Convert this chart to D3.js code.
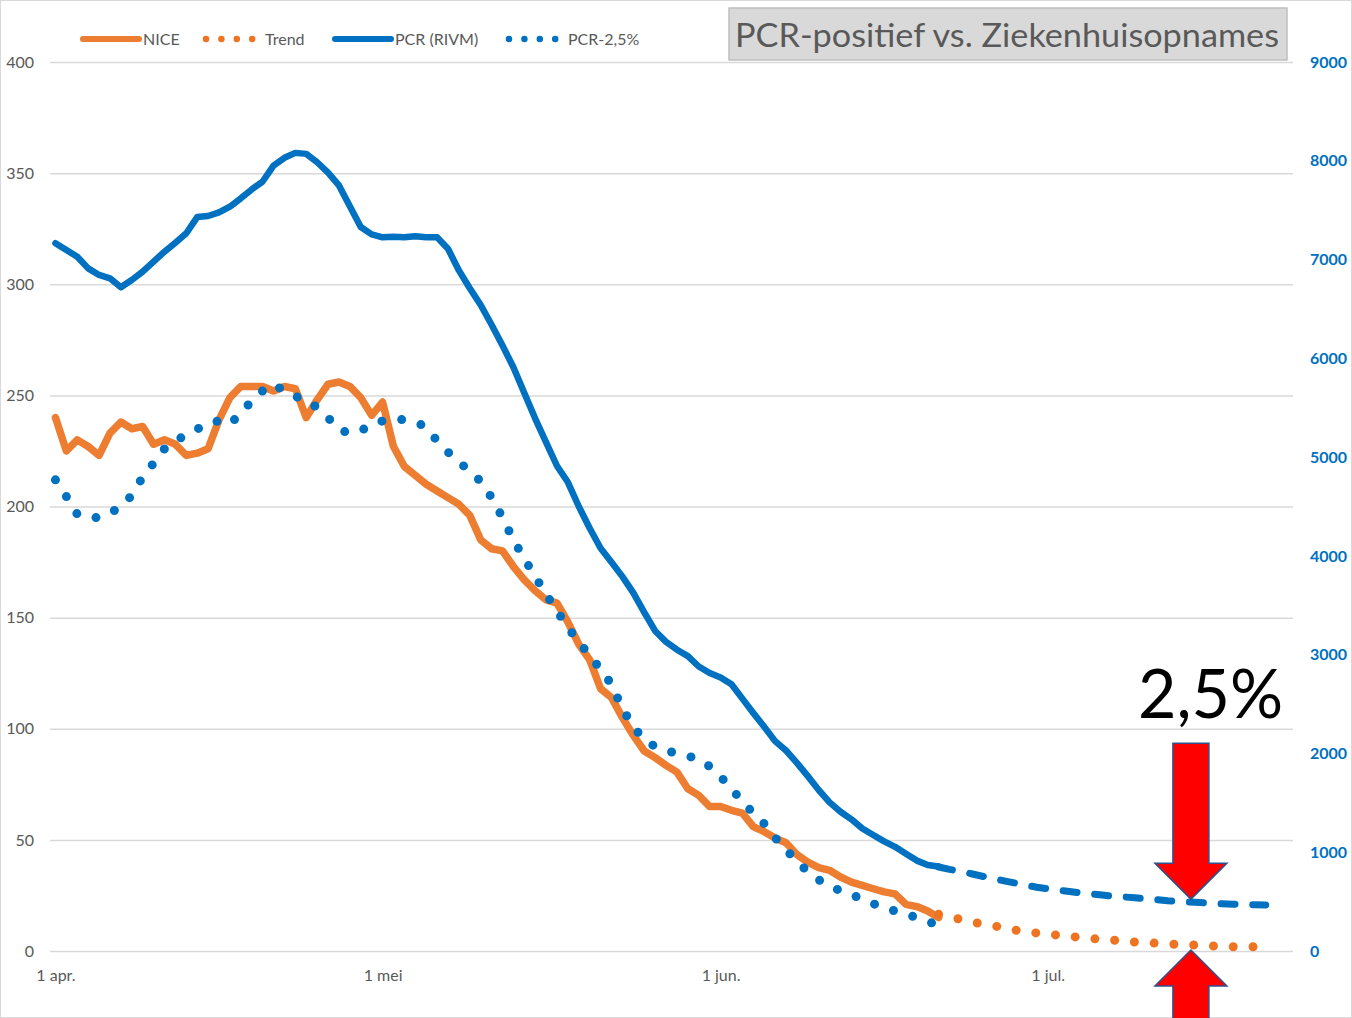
<!DOCTYPE html>
<html>
<head>
<meta charset="utf-8">
<style>
  body { margin: 0; background: #fff; }
  svg text { font-family: Lato, "Open Sans", sans-serif; }
  .grid line { stroke: #d9d9d9; stroke-width: 1.5; }
  .grid .domain, .axis .domain, .axis line { display: none; }
  .left text, .bottom text { fill: #595959; font-size: 16px; }
  .right text { fill: #0070c0; font-size: 16px; font-weight: bold; }
  .legend text { fill: #595959; font-size: 16px; }
</style>
</head>
<body>
<script src="https://cdn.jsdelivr.net/npm/d3@7"></script>
<script>
// ---- data (daily, from 1 april) ----
var startDay = Date.UTC(2021, 3, 1);

var nice = [240, 225, 230, 227, 223, 233, 238, 235, 236, 228, 230, 228, 223, 224, 226, 239,
  249, 254, 254, 254, 252, 254, 253, 240, 248, 255, 256, 254, 249, 241, 247, 227, 218, 214,
  210, 207, 204, 201, 196, 185, 181, 180, 173, 167, 162, 158, 156.5, 148, 138, 131, 118, 114,
  105, 97, 90, 87, 83.5, 80.5, 73, 70, 65, 65, 63.3, 62, 56, 53.7, 50.8, 48.7, 43.4, 40, 37.5,
  36.3, 33.3, 31, 29.5, 28, 26.6, 25.7, 21, 20, 18, 15];

// trend starts at day 81 (21 jun)
var trendStart = 81;
var trend = [16.5, 15.5, 14.2, 13.2, 12.1, 11.4, 10.4, 9.4, 8.7, 8.1, 7.6, 7.1, 6.6, 6.1, 5.6,
  5.2, 4.9, 4.5, 4.0, 3.8, 3.5, 3.2, 2.9, 2.8, 2.6, 2.3, 2.1, 1.9, 1.9, 1.9];

var pcr = [7165, 7097, 7029, 6911, 6844, 6810, 6719, 6793, 6877, 6979, 7080, 7171, 7266, 7430,
  7441, 7478, 7535, 7620, 7710, 7790, 7950, 8030, 8080, 8070, 7985, 7880, 7750, 7540, 7330,
  7255, 7225, 7232, 7225, 7235, 7225, 7225, 7110, 6890, 6710, 6540, 6340, 6130, 5910, 5650,
  5390, 5150, 4910, 4745, 4500, 4280, 4077, 3935, 3790, 3625, 3428, 3240, 3130, 3050, 2985,
  2880, 2815, 2770, 2700, 2555, 2410, 2270, 2125, 2030, 1905, 1770, 1630, 1505, 1410, 1333,
  1240, 1175, 1110, 1055, 985, 915, 870, 855];

var pcrTrend = [850, 826, 806, 782, 757, 733, 710, 688, 666, 646, 630, 616, 602, 589, 577, 566,
  556, 547, 539, 530, 520, 509, 502, 496, 490, 484, 478, 474, 471, 468, 466];

var pcr25 = [212, 204.5, 196.5, 195, 195, 197, 200, 205, 213.3, 219.5, 226, 229.5, 232.3, 234.8,
  237.5, 238.5, 237, 242, 247.5, 252, 255, 252, 249.5, 248, 244.5, 240, 234.5, 233, 234, 237,
  238.5, 239.4, 239, 238, 235.8, 229.5, 224.5, 220, 216, 211.3, 204, 195, 185, 176.5, 168.5,
  160.5, 153, 145.5, 139, 133, 126.7, 120, 109, 101, 95, 92, 90.3, 88.8, 87.7, 86.4, 83, 78.5,
  73, 67.3, 62, 57.3, 51, 45.6, 40.5, 35.6, 32, 29.5, 27, 25.2, 23.6, 21.3, 19.5, 18, 16.5, 15,
  13.3, 11.5];

var leftTicks = [0, 50, 100, 150, 200, 250, 300, 350, 400];
var rightTicks = [0, 1000, 2000, 3000, 4000, 5000, 6000, 7000, 8000, 9000];
var monthDays = [0, 30, 61, 91];
var monthLabels = ["1 apr.", "1 mei", "1 jun.", "1 jul."];

var orange = "#ed7d31", orangeTrend = "#ee7421", blue = "#0070c0";

// ---- setup ----
var W = 1352, H = 1018;
var plot = {left: 50, right: 1293, top: 62, bottom: 951};

function day(i) { return new Date(startDay + i * 864e5 + 432e5); }

var x = d3.scaleUtc()
  .domain([new Date(startDay), new Date(startDay + 114 * 864e5)])
  .range([plot.left, plot.right]);
var yL = d3.scaleLinear().domain([0, 400]).range([plot.bottom, plot.top]);
var yR = d3.scaleLinear().domain([0, 9000]).range([plot.bottom, plot.top]);

var svg = d3.select("body").append("svg")
  .attr("width", W).attr("height", H);

svg.append("rect")
  .attr("x", 0.5).attr("y", 0.5).attr("width", W - 1).attr("height", H - 1)
  .attr("fill", "#fff").attr("stroke", "#d9d9d9");

// gridlines
svg.append("g").attr("class", "grid")
  .attr("transform", "translate(" + plot.left + ",0)")
  .call(d3.axisLeft(yL).tickValues(leftTicks).tickSize(-(plot.right - plot.left)).tickFormat(""));

// axes
svg.append("g").attr("class", "axis left")
  .attr("transform", "translate(34,0)")
  .call(d3.axisLeft(yL).tickValues(leftTicks).tickSize(0).tickPadding(0));

svg.append("g").attr("class", "axis right")
  .attr("transform", "translate(1310,0)")
  .call(d3.axisRight(yR).tickValues(rightTicks).tickSize(0).tickPadding(0)
    .tickFormat(d3.format("d")));

svg.append("g").attr("class", "axis bottom")
  .attr("transform", "translate(0," + plot.bottom + ")")
  .call(d3.axisBottom(x).tickValues(monthDays.map(day)).tickSize(0).tickPadding(19)
    .tickFormat(function(d, i) { return monthLabels[i]; }));

// ---- series ----
function drawLine(values, offset, scale, color, width, dash) {
  var line = d3.line()
    .x(function(d, i) { return x(day(i + offset)); })
    .y(function(d) { return scale(d); });
  var p = svg.append("path")
    .datum(values)
    .attr("d", line)
    .attr("fill", "none")
    .attr("stroke", color)
    .attr("stroke-width", width)
    .attr("stroke-linejoin", "round")
    .attr("stroke-linecap", "round");
  if (dash) p.attr("stroke-dasharray", dash);
  return p;
}

drawLine(nice, 0, yL, orange, 7.5);
drawLine(trend, trendStart, yL, orangeTrend, 9, "0,19.8");
drawLine(pcr, 0, yR, blue, 6.5);
drawLine(pcrTrend, trendStart, yR, blue, 7, "14,17.7");
drawLine(pcr25, 0, yL, blue, 9, "0,20");

// ---- legend ----
var lg = svg.append("g").attr("class", "legend");
var legendItems = [
  {label: "NICE", x: 83, color: orange, dash: null, w: 6},
  {label: "Trend", x: 206, color: orangeTrend, dash: "0,15.4", w: 6.5},
  {label: "PCR (RIVM)", x: 335, color: blue, dash: null, w: 6},
  {label: "PCR-2,5%", x: 509, color: blue, dash: "0,15.4", w: 6.5}
];
var textX = [143, 265, 395, 568];
legendItems.forEach(function(it, i) {
  var len = it.dash ? 46.8 : 56;
  var l = lg.append("line")
    .attr("x1", it.x).attr("x2", it.x + len).attr("y1", 39).attr("y2", 39)
    .attr("stroke", it.color).attr("stroke-width", it.w).attr("stroke-linecap", "round");
  if (it.dash) l.attr("stroke-dasharray", it.dash);
  lg.append("text").attr("x", textX[i]).attr("y", 45).text(it.label);
});

// ---- title box ----
svg.append("rect")
  .attr("x", 729).attr("y", 8).attr("width", 558).attr("height", 52)
  .attr("fill", "#d9d9d9").attr("stroke", "#bfbfbf").attr("stroke-width", 1.5);
svg.append("text")
  .attr("x", 735).attr("y", 47)
  .attr("font-size", 32).attr("fill", "#595959")
  .attr("textLength", 544).attr("lengthAdjust", "spacingAndGlyphs")
  .text("PCR-positief vs. Ziekenhuisopnames");

// ---- annotation ----
svg.append("text")
  .attr("x", 1138).attr("y", 718)
  .attr("font-size", 68).attr("fill", "#000")
  .attr("textLength", 145).attr("lengthAdjust", "spacingAndGlyphs")
  .text("2,5%");

var ax = x(day(104)) + 1.5;   // arrow centre around 14 jul
function arrow(tipY, dir) {
  // dir = 1 points down, -1 points up
  var hw = 36, sw = 18, head = 36, shaft = 120;
  var b = tipY - dir * head;
  var pts = [
    [ax, tipY], [ax + hw, b], [ax + sw, b], [ax + sw, b - dir * shaft],
    [ax - sw, b - dir * shaft], [ax - sw, b], [ax - hw, b]
  ];
  svg.append("path")
    .attr("d", "M" + pts.join("L") + "Z")
    .attr("fill", "#ff0000").attr("stroke", "#2f528f").attr("stroke-width", 1.5);
}
arrow(yR(525), 1);
arrow(yL(0) - 1, -1);
</script>
</body>
</html>
